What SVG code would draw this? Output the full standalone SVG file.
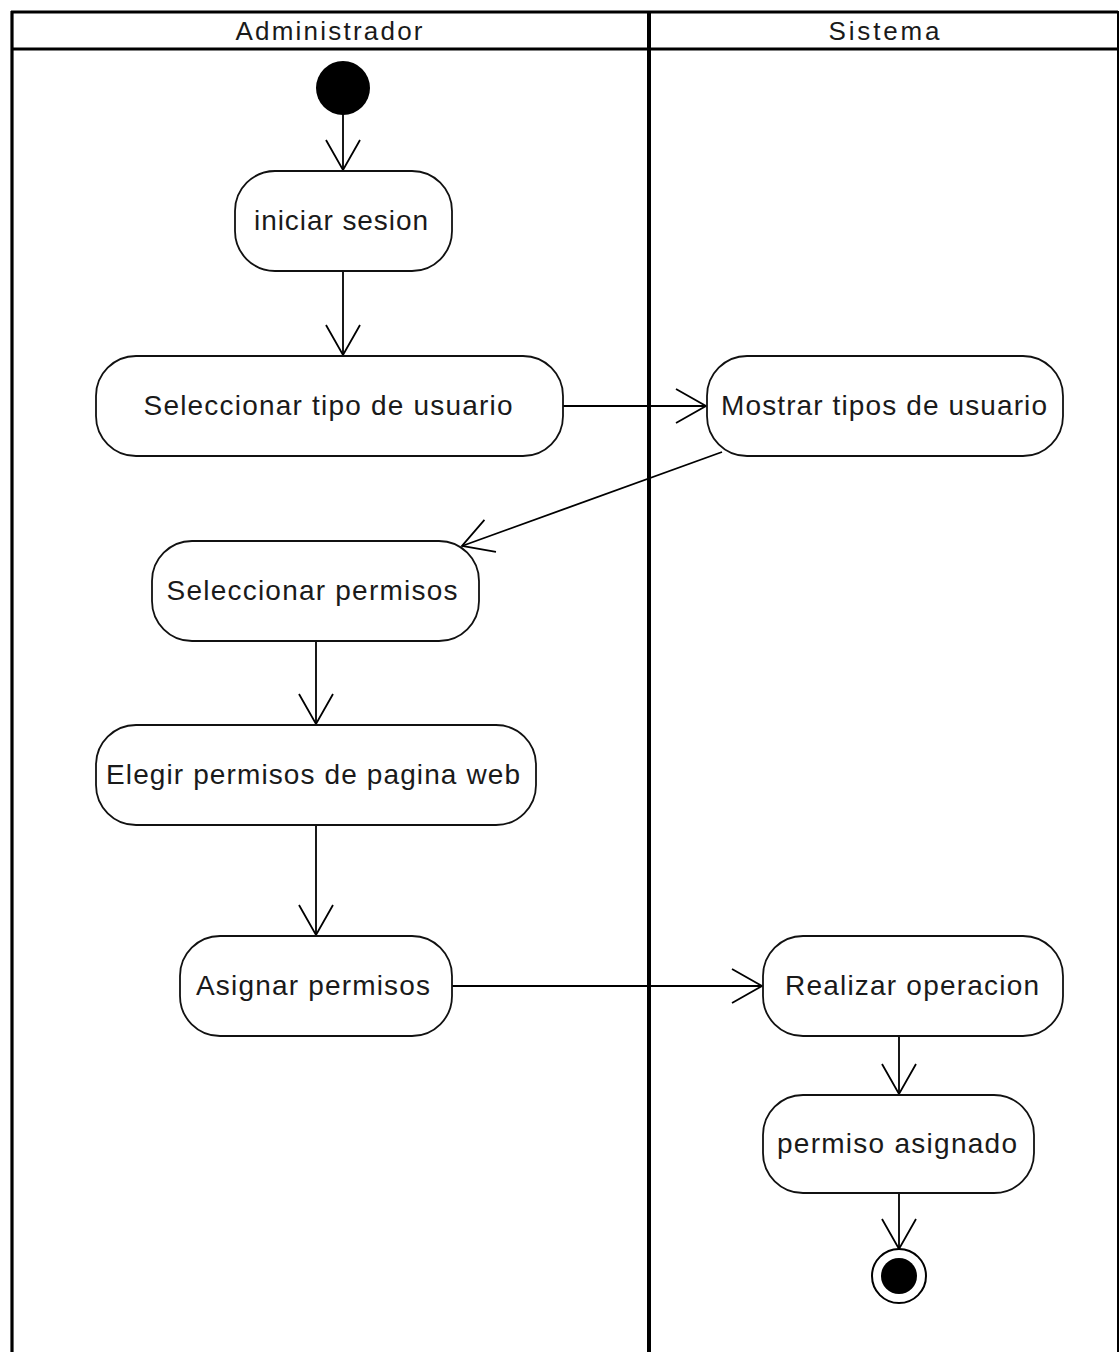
<svg xmlns="http://www.w3.org/2000/svg" width="1120" height="1352" viewBox="0 0 1120 1352">
  <defs>
    <marker id="open" markerUnits="userSpaceOnUse" viewBox="-32 -20 34 40" markerWidth="34" markerHeight="40" refX="0" refY="0" orient="auto" overflow="visible">
      <path d="M-30,-17 L0,0 L-30,17" fill="none" stroke="#000" stroke-width="1.8"/>
    </marker>
  </defs>
  <style>
    .lane { fill: none; stroke: #000; stroke-width: 3.2; }
    .act { fill: #fff; stroke: #111; stroke-width: 1.8; }
    .lbl { font-family: "Liberation Sans", Arial, sans-serif; font-size: 28px; fill: #1a1a1a; text-anchor: middle; }
    .hdr { font-family: "Liberation Sans", Arial, sans-serif; font-size: 26px; fill: #1a1a1a; text-anchor: middle; }
    .flow { fill: none; stroke: #000; stroke-width: 1.8; marker-end: url(#open); }
  </style>
  <rect width="1120" height="1352" fill="#fff"/>

  <!-- swimlanes -->
  <g id="swimlanes">
    <line class="lane" x1="11" y1="12" x2="1118" y2="12"/>
    <line class="lane" x1="11" y1="49" x2="1118" y2="49"/>
    <line class="lane" x1="12" y1="11" x2="12" y2="1352"/>
    <line class="lane" x1="649" y1="11" x2="649" y2="1352" style="stroke-width:4"/>
    <line class="lane" x1="1118" y1="11" x2="1118" y2="1352" style="stroke-width:2"/>
    <text class="hdr" x="329" y="40" textLength="187" lengthAdjust="spacing">Administrador</text>
    <text class="hdr" x="884" y="40" textLength="111" lengthAdjust="spacing">Sistema</text>
  </g>

  <!-- connectors -->
  <g id="connectors">
    <line class="flow" x1="343" y1="114" x2="343" y2="170"/>
    <line class="flow" x1="343" y1="271" x2="343" y2="355"/>
    <line class="flow" x1="563" y1="406" x2="706" y2="406"/>
    <line class="flow" x1="722" y1="452" x2="462" y2="546"/>
    <line class="flow" x1="316" y1="641" x2="316" y2="724"/>
    <line class="flow" x1="316" y1="825" x2="316" y2="935"/>
    <line class="flow" x1="452" y1="986" x2="762" y2="986"/>
    <line class="flow" x1="899" y1="1036" x2="899" y2="1094"/>
    <line class="flow" x1="899" y1="1193" x2="899" y2="1249"/>
  </g>

  <!-- start node -->
  <g id="start">
    <circle cx="343" cy="88" r="27" fill="#000"/>
  </g>

  <g id="iniciar_sesion">
    <rect class="act" x="235" y="171" width="217" height="100" rx="40" ry="40"/>
    <text class="lbl" x="341" y="230" textLength="174" lengthAdjust="spacing">iniciar sesion</text>
  </g>

  <g id="seleccionar_tipo">
    <rect class="act" x="96" y="356" width="467" height="100" rx="40" ry="40"/>
    <text class="lbl" x="328" y="415" textLength="369" lengthAdjust="spacing">Seleccionar tipo de usuario</text>
  </g>

  <g id="mostrar_tipos">
    <rect class="act" x="707" y="356" width="356" height="100" rx="40" ry="40"/>
    <text class="lbl" x="884" y="415" textLength="326" lengthAdjust="spacing">Mostrar tipos de usuario</text>
  </g>

  <g id="seleccionar_permisos">
    <rect class="act" x="152" y="541" width="327" height="100" rx="40" ry="40"/>
    <text class="lbl" x="312" y="600" textLength="291" lengthAdjust="spacing">Seleccionar permisos</text>
  </g>

  <g id="elegir_permisos">
    <rect class="act" x="96" y="725" width="440" height="100" rx="40" ry="40"/>
    <text class="lbl" x="313" y="784" textLength="414" lengthAdjust="spacing">Elegir permisos de pagina web</text>
  </g>

  <g id="asignar_permisos">
    <rect class="act" x="180" y="936" width="272" height="100" rx="40" ry="40"/>
    <text class="lbl" x="313" y="995" textLength="234" lengthAdjust="spacing">Asignar permisos</text>
  </g>

  <g id="realizar_operacion">
    <rect class="act" x="763" y="936" width="300" height="100" rx="40" ry="40"/>
    <text class="lbl" x="912" y="995" textLength="254" lengthAdjust="spacing">Realizar operacion</text>
  </g>

  <g id="permiso_asignado">
    <rect class="act" x="763" y="1095" width="271" height="98" rx="40" ry="40"/>
    <text class="lbl" x="897" y="1153" textLength="240" lengthAdjust="spacing">permiso asignado</text>
  </g>

  <!-- final node -->
  <g id="end">
    <circle cx="899" cy="1276" r="27" fill="#fff" stroke="#000" stroke-width="2"/>
    <circle cx="899" cy="1276" r="18" fill="#000"/>
  </g>
</svg>
